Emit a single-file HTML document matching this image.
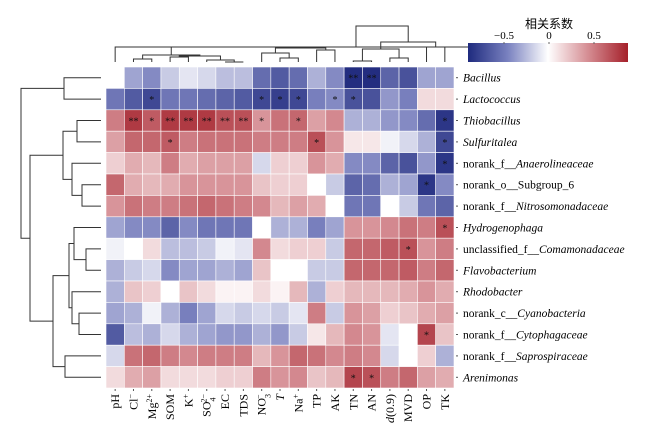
<!DOCTYPE html>
<html><head><meta charset="utf-8">
<style>
body{margin:0;background:#fff;}
svg{display:block;font-family:"Liberation Serif","Noto Serif CJK SC",serif;}
</style></head>
<body>
<svg id="chart" width="650" height="434" viewBox="0 0 650 434" xmlns="http://www.w3.org/2000/svg">
<defs>
<linearGradient id="cbar" x1="0" x2="1" y1="0" y2="0">
<stop offset="0" stop-color="#1e2a7e"/>
<stop offset="0.25" stop-color="#7a82c0"/>
<stop offset="0.5" stop-color="#ffffff"/>
<stop offset="0.75" stop-color="#d58d93"/>
<stop offset="1" stop-color="#a5202a"/>
</linearGradient>
</defs>
<g id="dendro-top"></g>
<g id="dendro-left"></g>
<g id="cells"></g>
<g id="rowlabels"></g>
<g id="collabels"></g>
<g>
<text x="549" y="28" font-size="12" text-anchor="middle" font-family="Noto Sans CJK SC, sans-serif">相关系数</text>
<rect x="468" y="43" width="160" height="19" fill="url(#cbar)"/>
<text x="504" y="39" font-size="11" text-anchor="middle">−0.5</text>
<text x="549" y="39" font-size="11" text-anchor="middle">0</text>
<text x="594" y="39" font-size="11" text-anchor="middle">0.5</text>
<line x1="504" y1="42" x2="504" y2="44" stroke="#666"/><line x1="549" y1="42" x2="549" y2="44" stroke="#666"/><line x1="594" y1="42" x2="594" y2="44" stroke="#666"/>
</g>
</svg>
<script>
const columns = ["pH","Cl","Mg","SOM","K","SO4","EC","TDS","NO3","T","Na","TP","AK","TN","AN","d09","MVD","OP","TK"];
const rows = ["Bacillus","Lactococcus","Thiobacillus","Sulfuritalea","Anaerolineaceae","Subgroup_6","Nitrosomonadaceae","Hydrogenophaga","Comamonadaceae","Flavobacterium","Rhodobacter","Cyanobacteria","Cytophagaceae","Saprospiraceae","Arenimonas"];
const r0 = [0.0,-0.35,-0.45,-0.2,-0.1,-0.15,-0.25,-0.25,-0.6,-0.7,-0.6,-0.3,-0.45,-0.95,-0.95,-0.65,-0.75,-0.35,-0.35];
const r1 = [-0.55,-0.7,-0.8,-0.55,-0.55,-0.6,-0.65,-0.7,-0.8,-0.85,-0.8,-0.5,-0.45,-0.75,-0.75,-0.4,-0.5,0.15,0.15];
const r2 = [0.55,0.85,0.7,0.85,0.85,0.85,0.75,0.75,0.45,0.6,0.65,0.4,0.5,-0.3,-0.3,-0.4,-0.45,-0.6,-0.9];
const r3 = [0.4,0.65,0.65,0.7,0.55,0.6,0.6,0.6,0.55,0.55,0.55,0.75,0.45,0.1,0.1,-0.05,-0.15,-0.3,-0.8];
const r4 = [0.2,0.35,0.3,0.55,0.35,0.4,0.4,0.4,-0.15,0.2,0.2,0.45,0.35,-0.45,-0.45,-0.65,-0.75,-0.4,-0.9];
const r5 = [0.65,0.35,0.3,0.35,0.45,0.45,0.45,0.45,0.25,0.2,0.2,0.0,-0.2,-0.65,-0.6,-0.3,-0.35,-0.9,-0.45];
const r6 = [0.45,0.6,0.55,0.55,0.6,0.65,0.6,0.55,0.5,0.3,0.4,0.35,0.0,-0.55,-0.55,0.0,-0.2,-0.55,-0.65];
const r7 = [-0.35,-0.45,-0.45,-0.65,-0.45,-0.55,-0.55,-0.55,0.0,-0.3,-0.3,-0.5,-0.35,0.45,0.45,0.5,0.6,0.55,0.75];
const r8 = [-0.05,0.0,0.15,-0.25,-0.25,-0.2,-0.05,-0.1,0.5,0.15,0.2,0.2,-0.2,0.65,0.65,0.7,0.75,0.45,0.55];
const r9 = [-0.3,-0.2,-0.15,-0.45,-0.35,-0.35,-0.3,-0.35,0.25,0.0,0.0,-0.2,-0.2,0.65,0.65,0.65,0.7,0.55,0.65];
const r10 = [-0.3,0.25,0.2,0.0,0.25,0.15,0.05,0.05,0.15,0.05,0.3,-0.3,0.2,0.3,0.3,0.3,0.35,0.45,0.35];
const r11 = [-0.35,-0.3,-0.05,-0.3,-0.5,-0.35,-0.15,-0.2,-0.15,-0.2,-0.1,0.55,-0.2,0.45,0.4,0.2,0.25,0.35,0.4];
const r12 = [-0.7,-0.25,-0.3,-0.15,-0.3,-0.35,-0.4,-0.4,-0.3,-0.4,-0.2,0.1,0.3,0.5,0.45,-0.1,0.0,0.8,0.25];
const r13 = [-0.15,0.6,0.65,0.55,0.5,0.55,0.55,0.55,0.3,0.45,0.65,0.6,0.5,0.55,0.5,-0.15,0.0,0.2,-0.3];
const r14 = [0.15,0.35,0.4,0.15,0.15,0.15,0.2,0.2,0.55,0.45,0.5,0.25,0.3,0.8,0.75,0.55,0.65,0.4,0.35];
const values = [r0,r1,r2,r3,r4,r5,r6,r7,r8,r9,r10,r11,r12,r13,r14];
const stars = ["0000000000000220000","0010000011101100000","0212222210100000001","0001000000010000001","0000000000000000001","0000000000000000010","0000000000000000000","0000000000000000001","0000000000000000100","0000000000000000000","0000000000000000000","0000000000000000000","0000000000000000010","0000000000000000000","0000000000000110000"];

const NS="http://www.w3.org/2000/svg";
const X0=106,X1=454,Y0=67,Y1=388;
const cw=(X1-X0)/columns.length, rh=(Y1-Y0)/rows.length;
const xc=i=>X0+cw*(i+0.5), yc=i=>Y0+rh*(i+0.5);
function mk(tag,attrs,parent){const e=document.createElementNS(NS,tag);for(const k in attrs)e.setAttribute(k,attrs[k]);parent.appendChild(e);return e;}
function lerp(a,b,t){return a.map((v,i)=>Math.round(v+(b[i]-v)*t));}
function color(v){
  const t=Math.max(-1,Math.min(1,v/0.95));
  const W=[255,255,255],B1=[125,132,192],B2=[35,45,128],R1=[214,142,148],R2=[165,35,45];
  let c;
  if(t<0){const a=-t;c=a<0.5?lerp(W,B1,a/0.5):lerp(B1,B2,(a-0.5)/0.5);}
  else{c=t<0.5?lerp(W,R1,t/0.5):lerp(R1,R2,(t-0.5)/0.5);}
  return `rgb(${c[0]},${c[1]},${c[2]})`;
}
const cells=document.getElementById('cells');
values.forEach((row,ri)=>row.forEach((v,ci)=>{
  const r=mk('rect',{x:X0+ci*cw,y:Y0+ri*rh,width:cw,height:rh,fill:color(v),stroke:'#fff','stroke-width':0.6},cells);
  
  
  const s=+stars[ri][ci];
  if(s){const t=mk('text',{x:xc(ci),y:yc(ri)+4,'font-size':10,'text-anchor':'middle',fill:'#111'},cells);t.textContent=s===2?'**':'*';
    
    }
}));
const rl=document.getElementById('rowlabels');
const rowParts=[[["Bacillus",1]],[["Lactococcus",1]],[["Thiobacillus",1]],[["Sulfuritalea",1]],[["norank_f__",0],["Anaerolineaceae",1]],[["norank_o__Subgroup_6",0]],[["norank_f__",0],["Nitrosomonadaceae",1]],[["Hydrogenophaga",1]],[["unclassified_f__",0],["Comamonadaceae",1]],[["Flavobacterium",1]],[["Rhodobacter",1]],[["norank_c__",0],["Cyanobacteria",1]],[["norank_f__",0],["Cytophagaceae",1]],[["norank_f__",0],["Saprospiraceae",1]],[["Arenimonas",1]]];
rowParts.forEach((parts,i)=>{
  mk('line',{x1:456,x2:458,y1:yc(i),y2:yc(i),stroke:'#555'},rl);
  const t=mk('text',{x:463,y:yc(i)+4,'font-size':11.5},rl);
  
  
  parts.forEach(p=>{const s=mk('tspan',p[1]?{'font-style':'italic'}:{},t);s.textContent=p[0];});
});
const cl=document.getElementById('collabels');
const colParts=[[["pH"]],[["Cl"],["−","sup"]],[["Mg"],["2+","sup"]],[["SOM"]],[["K"],["+","sup"]],[["SO"],["4","sub"],["2−","sup2"]],[["EC"]],[["TDS"]],[["NO"],["3","sub"],["−","sup2"]],[["T","it"]],[["Na"],["+","sup"]],[["TP"]],[["AK"]],[["TN"]],[["AN"]],[["d","it"],["(0.9)"]],[["MVD"]],[["OP"]],[["TK"]]];
colParts.forEach((parts,i)=>{
  mk('line',{x1:xc(i),x2:xc(i),y1:389,y2:391,stroke:'#555'},cl);
  const t=mk('text',{transform:`translate(${xc(i)+4},394) rotate(-90)`,'font-size':12,'text-anchor':'end'},cl);
  
  
  parts.forEach(p=>{let a={};
    if(p[1]==='sup')a={'baseline-shift':'super','font-size':8};
    if(p[1]==='sub')a={'baseline-shift':'sub','font-size':8};
    if(p[1]==='sup2')a={'dx':-5,'baseline-shift':'super','font-size':8};
    if(p[1]==='it')a={'font-style':'italic'};
    const s=mk('tspan',a,t);s.textContent=p[0];});
});
function drawTree(tree,g,pos,isTop){
  function walk(n){
    if(typeof n==='number')return {p:pos(n),h:isTop?62:101};
    const a=walk(n[0]),b=walk(n[1]),h=n[2];
    if(isTop){
      mk('path',{d:`M${a.p},${a.h}V${h}H${b.p}V${b.h}`,fill:'none',stroke:'#333','stroke-width':1},g);
    }else{
      mk('path',{d:`M${a.h},${a.p}H${h}V${b.p}H${b.h}`,fill:'none',stroke:'#333','stroke-width':1},g);
    }
    return {p:(a.p+b.p)/2,h:h};
  }
  walk(tree);
}
const topTree=[[0,[[[[1,2,59],[[3,4,57],[5,[6,7,62],60],56],55],[[8,[9,10,58],53],[11,12,50],48],47],46],47],[[[13,14,61],[15,16,58],49],[17,18,47],42],26];
drawTree(topTree,document.getElementById('dendro-top'),xc,true);
const leftTree=[[0,1,64],[[[2,3,77],[4,[5,6,82],72],63],[[[7,[8,9,86],74],[10,[11,12,79],72],69],[13,14,65],53],30],21];
drawTree(leftTree,document.getElementById('dendro-left'),yc,false);
</script>
</body></html>
